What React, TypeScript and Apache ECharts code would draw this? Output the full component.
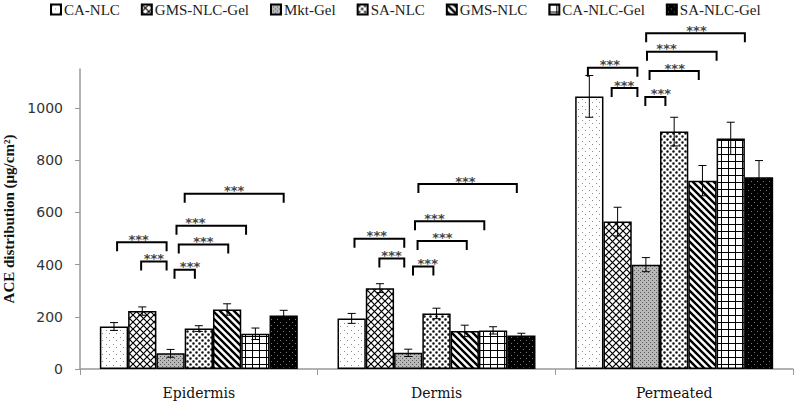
import React, { useEffect, useRef } from "react";
import * as echarts from "echarts";

const categories = ["Epidermis", "Dermis", "Permeated"];
const seriesNames = ["CA-NLC", "GMS-NLC-Gel", "Mkt-Gel", "SA-NLC", "GMS-NLC", "CA-NLC-Gel", "SA-NLC-Gel"];

const caNlc = [163, 194, 1045];
const gmsNlcGel = [222, 310, 565];
const mktGel = [60, 62, 400];
const saNlc = [155, 213, 910];
const gmsNlc = [228, 146, 722];
const caNlcGel = [135, 148, 884];
const saNlcGel = [205, 128, 735];

const caNlcErr = [15, 19, 80];
const gmsNlcGelErr = [16, 17, 55];
const mktGelErr = [15, 14, 27];
const saNlcErr = [11, 20, 55];
const gmsNlcErr = [22, 22, 58];
const caNlcGelErr = [22, 14, 62];
const saNlcGelErr = [20, 9, 64];

const yTicks = [0, 200, 400, 600, 800, 1000];

// significance brackets: [category, fromBar, toBar, value, textAtBar]
const brackets = [
  [0, 0.11, 1.86, 486, 0.87],
  [0, 0.96, 1.86, 412, 1.41],
  [0, 2.14, 2.86, 380, 2.69],
  [0, 2.29, 4.04, 477, 3.16],
  [0, 2.21, 4.67, 549, 2.88],
  [0, 2.5, 6.0, 672, 4.25],
  [1, 0.1, 1.86, 499, 0.89],
  [1, 0.98, 1.86, 424, 1.41],
  [1, 2.17, 2.89, 393, 2.69],
  [1, 2.33, 4.07, 491, 3.21],
  [1, 2.24, 4.69, 566, 2.93],
  [1, 2.36, 5.84, 709, 4.02],
  [2, -0.05, 1.7, 1155, 0.73],
  [2, 0.79, 1.7, 1077, 1.23],
  [2, 1.98, 2.69, 1043, 2.53],
  [2, 2.13, 3.87, 1142, 3.02],
  [2, 2.04, 4.5, 1216, 2.73],
  [2, 2.01, 5.5, 1287, 3.79],
];

const seriesValues = [caNlc, gmsNlcGel, mktGel, saNlc, gmsNlc, caNlcGel, saNlcGel];
const seriesErrors = [caNlcErr, gmsNlcGelErr, mktGelErr, saNlcErr, gmsNlcErr, caNlcGelErr, saNlcGelErr];

const CAT_GAP = 0.167;

function makeCanvas(w: number, h: number, draw: (ctx: CanvasRenderingContext2D) => void) {
  const c = document.createElement("canvas");
  c.width = w;
  c.height = h;
  const ctx = c.getContext("2d") as CanvasRenderingContext2D;
  draw(ctx);
  return c;
}

function makePatterns() {
  const p0 = makeCanvas(7, 7, (ctx) => {
    ctx.fillStyle = "#fff";
    ctx.fillRect(0, 0, 7, 7);
    ctx.fillStyle = "#8a8a8a";
    ctx.fillRect(1, 1, 1, 1);
    ctx.fillRect(4, 4, 1, 1);
  });
  const p1 = makeCanvas(7, 7, (ctx) => {
    ctx.fillStyle = "#fff";
    ctx.fillRect(0, 0, 7, 7);
    ctx.strokeStyle = "#000";
    ctx.lineWidth = 1.2;
    ctx.beginPath();
    ctx.moveTo(-1, -1);
    ctx.lineTo(8, 8);
    ctx.moveTo(8, -1);
    ctx.lineTo(-1, 8);
    ctx.stroke();
  });
  const p2 = makeCanvas(4, 4, (ctx) => {
    ctx.fillStyle = "#b8b8b8";
    ctx.fillRect(0, 0, 4, 4);
    ctx.fillStyle = "#5a5a5a";
    ctx.fillRect(0, 0, 1, 1);
    ctx.fillRect(2, 2, 1, 1);
  });
  const p3 = makeCanvas(6, 6, (ctx) => {
    ctx.fillStyle = "#fff";
    ctx.fillRect(0, 0, 6, 6);
    ctx.fillStyle = "#111";
    ctx.beginPath();
    ctx.arc(1.5, 1.5, 1.3, 0, Math.PI * 2);
    ctx.arc(4.5, 4.5, 1.3, 0, Math.PI * 2);
    ctx.fill();
  });
  const p4 = makeCanvas(7, 7, (ctx) => {
    ctx.fillStyle = "#fff";
    ctx.fillRect(0, 0, 7, 7);
    ctx.strokeStyle = "#000";
    ctx.lineWidth = 2.4;
    ctx.beginPath();
    for (const x0 of [-7, 0, 7]) {
      ctx.moveTo(x0 - 1, -1);
      ctx.lineTo(x0 + 8, 8);
    }
    ctx.stroke();
  });
  const p5 = makeCanvas(7, 7, (ctx) => {
    ctx.fillStyle = "#fff";
    ctx.fillRect(0, 0, 7, 7);
    ctx.fillStyle = "#000";
    ctx.fillRect(0, 0, 7, 1);
    ctx.fillRect(0, 0, 1, 7);
  });
  const p6 = makeCanvas(6, 6, (ctx) => {
    ctx.fillStyle = "#000";
    ctx.fillRect(0, 0, 6, 6);
    ctx.fillStyle = "#7a7a7a";
    ctx.fillRect(1, 1, 1, 1);
    ctx.fillRect(4, 4, 1, 1);
  });
  return [p0, p1, p2, p3, p4, p5, p6];
}

export default function App() {
  const ref = useRef<HTMLDivElement>(null);

  useEffect(() => {
    document.body.style.margin = "0";
    if (!ref.current) return;
    const chart = echarts.init(ref.current, null, { renderer: "svg" });
    const patterns = makePatterns();
    const N = seriesNames.length;

    const barSeries = seriesNames.map((name, i) => ({
      name,
      type: "bar",
      data: seriesValues[i],
      barGap: "0%",
      barCategoryGap: CAT_GAP * 100 + "%",
      itemStyle: {
        color: { image: patterns[i], repeat: "repeat" },
        borderColor: "#000",
        borderWidth: 1.5,
      },
      emphasis: { disabled: true },
    }));

    const errData: number[][] = [];
    seriesValues.forEach((vals, s) =>
      vals.forEach((v, c) => errData.push([c, s, v, seriesErrors[s][c]]))
    );

    const barX = (api: any, cat: number, idx: number, y: number) => {
      const center = api.coord([cat, y]);
      const band = api.size([1, 0])[0];
      const groupW = band * (1 - CAT_GAP);
      const bw = groupW / N;
      return [center[0] - groupW / 2 + bw * (idx + 0.5), center[1]];
    };

    const errorSeries = {
      type: "custom",
      name: "err",
      silent: true,
      z: 5,
      encode: { x: 0, y: 2 },
      data: errData,
      renderItem: (params: any, api: any) => {
        const c = api.value(0);
        const s = api.value(1);
        const v = api.value(2);
        const e = api.value(3);
        const [x] = barX(api, c, s, v);
        const yT = api.coord([c, v + e])[1];
        const yB = api.coord([c, v - e])[1];
        const st = { stroke: "#000", lineWidth: 1 };
        return {
          type: "group",
          children: [
            { type: "line", shape: { x1: x, y1: yT, x2: x, y2: yB }, style: st },
            { type: "line", shape: { x1: x - 4, y1: yT, x2: x + 4, y2: yT }, style: st },
            { type: "line", shape: { x1: x - 4, y1: yB, x2: x + 4, y2: yB }, style: st },
          ],
        };
      },
    };

    const bracketSeries = {
      type: "custom",
      name: "sig",
      silent: true,
      z: 6,
      clip: false,
      encode: { x: 0, y: 3 },
      data: brackets,
      renderItem: (params: any, api: any) => {
        const c = api.value(0);
        const f = api.value(1);
        const t = api.value(2);
        const v = api.value(3);
        const tx = api.value(4);
        const [x0, y] = barX(api, c, f, v);
        const [x1] = barX(api, c, t, v);
        const [xt] = barX(api, c, tx, v);
        return {
          type: "group",
          children: [
            {
              type: "polyline",
              shape: { points: [[x0, y + 9], [x0, y], [x1, y], [x1, y + 9]] },
              style: { stroke: "#000", lineWidth: 2, fill: "none" },
            },
            {
              type: "text",
              x: xt,
              y: y - 3,
              style: {
                text: "***",
                fill: "#444",
                font: "bold 13px 'DejaVu Sans'",
                textAlign: "center",
                textVerticalAlign: "middle",
              },
            },
          ],
        };
      },
    };

    chart.setOption({
      animation: false,
      legend: {
        data: seriesNames,
        left: 50,
        top: 2,
        padding: 0,
        itemWidth: 10,
        itemHeight: 10,
        itemGap: 21,
        icon: "rect",
        textStyle: {
          fontFamily: "'Liberation Serif', serif",
          fontSize: 15,
          color: "#222",
          padding: [0, 0, 0, -2],
        },
      },
      grid: { left: 80, right: 3, top: 69, height: 300, outerBoundsMode: "none", containLabel: false },
      xAxis: {
        type: "category",
        data: categories,
        axisLine: { lineStyle: { color: "#999", width: 1.5 } },
        axisTick: { show: true, length: 6, lineStyle: { color: "#999" } },
        axisLabel: {
          fontFamily: "'DejaVu Serif', serif",
          fontSize: 14,
          color: "#111",
          margin: 17,
        },
      },
      yAxis: {
        type: "value",
        min: 0,
        max: 1150,
        interval: 200,
        name: "ACE distribution (μg/cm²)",
        nameLocation: "middle",
        nameGap: 62,
        nameTextStyle: {
          fontFamily: "'Liberation Serif', serif",
          fontWeight: "bold",
          fontSize: 15,
          color: "#111",
        },
        axisLine: { show: true, lineStyle: { color: "#999", width: 1.5 } },
        axisTick: { show: true, length: 5, lineStyle: { color: "#999" }, customValues: yTicks },
        axisLabel: {
          fontFamily: "'DejaVu Sans', sans-serif",
          fontSize: 14,
          color: "#333",
          margin: 17,
          customValues: yTicks,
          formatter: (v: number) => String(v),
        },
        splitLine: { show: false },
      },
      series: [...barSeries, errorSeries, bracketSeries],
    });

    return () => chart.dispose();
  }, []);

  return <div ref={ref} style={{ width: 796, height: 405 }} />;
}
